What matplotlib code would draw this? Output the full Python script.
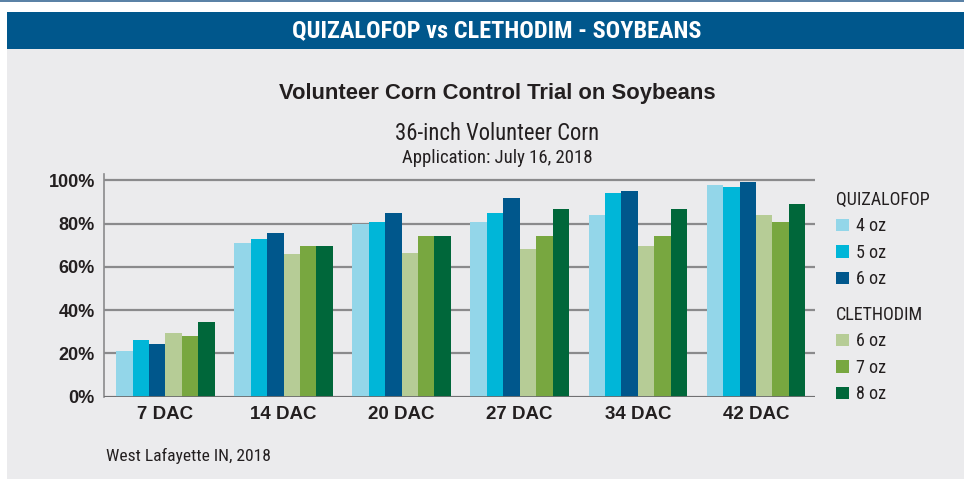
import matplotlib
matplotlib.use("Agg")
import matplotlib.pyplot as plt
from matplotlib.patches import Rectangle, Patch
import numpy as np
import logging
logging.getLogger("matplotlib.font_manager").setLevel(logging.ERROR)

categories = ["7 DAC", "14 DAC", "20 DAC", "27 DAC", "34 DAC", "42 DAC"]
series_labels = ["4 oz", "5 oz", "6 oz", "6 oz", "7 oz", "8 oz"]
quiz_4oz = [21, 71, 80, 81, 84, 98]
quiz_5oz = [26, 73, 81, 85, 94, 97]
quiz_6oz = [24.5, 75.5, 85, 92, 95, 99.5]
cleth_6oz = [29.5, 66, 66.5, 68.5, 69.5, 84]
cleth_7oz = [28, 69.5, 74.5, 74.5, 74.5, 81]
cleth_8oz = [34.5, 69.5, 74.5, 87, 87, 89]
yticks = [0, 20, 40, 60, 80, 100]
ytick_labels = ["0%", "20%", "40%", "60%", "80%", "100%"]

series = [quiz_4oz, quiz_5oz, quiz_6oz, cleth_6oz, cleth_7oz, cleth_8oz]
colors = ["#93d6e9", "#00b6d8", "#00578c", "#b6cc96", "#78a740", "#00673a"]

NARROW = ["Liberation Sans Narrow", "Roboto Condensed", "Archivo Narrow", "DejaVu Sans"]
BOLD = ["Liberation Sans", "Arimo", "Nimbus Sans", "Roboto", "DejaVu Sans"]
BG = "#ebebed"
TXT = "#231f20"

W, H = 964, 480
fig = plt.figure(figsize=(W / 100, H / 100), dpi=100)
fig.patch.set_facecolor("white")

# background panels
fig.patches.append(Rectangle((0, 1 - 2 / H), 1, 2 / H, transform=fig.transFigure,
                             facecolor="#5b82a6", edgecolor="none", zorder=-10))
fig.patches.append(Rectangle((7 / W, 1 - 49 / H), 1, 37 / H, transform=fig.transFigure,
                             facecolor="#00578c", edgecolor="none", zorder=-10))
fig.patches.append(Rectangle((7 / W, 1 - 479 / H), 1, 430 / H, transform=fig.transFigure,
                             facecolor=BG, edgecolor="none", zorder=-10))

fig.text(497 / W, 1 - 31 / H, "QUIZALOFOP vs CLETHODIM - SOYBEANS", color="white",
         fontsize=17.5, fontweight="bold", family=NARROW, ha="center", va="center")
fig.text(497 / W, 1 - 94 / H, "Volunteer Corn Control Trial on Soybeans", color=TXT,
         fontsize=15.8, fontweight="bold", family=BOLD, ha="center", va="center")
fig.text(497 / W, 1 - 133 / H, "36-inch Volunteer Corn", color=TXT,
         fontsize=16.3, family=NARROW, ha="center", va="center")
fig.text(497 / W, 1 - 158 / H, "Application: July 16, 2018", color=TXT,
         fontsize=13.5, family=NARROW, ha="center", va="center")
fig.text(106 / W, 1 - 456 / H, "West Lafayette IN, 2018", color=TXT,
         fontsize=12.6, family=NARROW, ha="left", va="center")

ax = fig.add_axes([104 / W, 1 - 396.7 / H, (815 - 104) / W, (396.7 - 174) / H])
ax.set_facecolor("none")
x = np.arange(len(categories))
bw = 0.139
n = len(series)
for i, (vals, c) in enumerate(zip(series, colors)):
    ax.bar(x + (i - (n - 1) / 2) * bw, vals, width=bw, color=c, zorder=3, linewidth=0)

ax.set_xlim(-0.52, 5.5)
ax.set_ylim(0, 103)
ax.set_yticks(yticks)
ax.set_yticklabels(ytick_labels, fontsize=13, fontweight="bold", family=BOLD, color=TXT)
ax.set_xticks(x)
ax.set_xticklabels(categories, fontsize=13.5, fontweight="bold", family=BOLD, color=TXT)
ax.tick_params(axis="x", length=0, pad=7)
ax.tick_params(axis="y", length=0, pad=6.5)
ax.grid(axis="y", color="#8a8a8c", linewidth=1.6, zorder=1)
for s in ["top", "right", "bottom"]:
    ax.spines[s].set_visible(False)
ax.spines["left"].set_color("#8a8a8c")
ax.spines["left"].set_linewidth(1.2)
ax.axhline(0, color="#6d6d6f", linewidth=2, zorder=4)

h1 = [Patch(facecolor=c, edgecolor="none") for c in colors[:3]]
h2 = [Patch(facecolor=c, edgecolor="none") for c in colors[3:]]
kw = dict(frameon=False, handlelength=0.7, handleheight=0.7, handletextpad=0.4,
          labelspacing=0.47, borderpad=0, borderaxespad=0, alignment="left",
          prop={"family": NARROW, "size": 13}, title_fontproperties={"family": NARROW, "size": 13})
leg1 = fig.legend(h1, series_labels[:3], title="QUIZALOFOP", loc="upper left",
                  bbox_to_anchor=(836 / W, 1 - 191 / H), **kw)
leg2 = fig.legend(h2, series_labels[3:], title="CLETHODIM", loc="upper left",
                  bbox_to_anchor=(836 / W, 1 - 306 / H), **kw)
for lg in (leg1, leg2):
    lg.get_title().set_color(TXT)
    for t in lg.get_texts():
        t.set_color(TXT)

fig.savefig("out.png", dpi=100, facecolor=fig.get_facecolor())
